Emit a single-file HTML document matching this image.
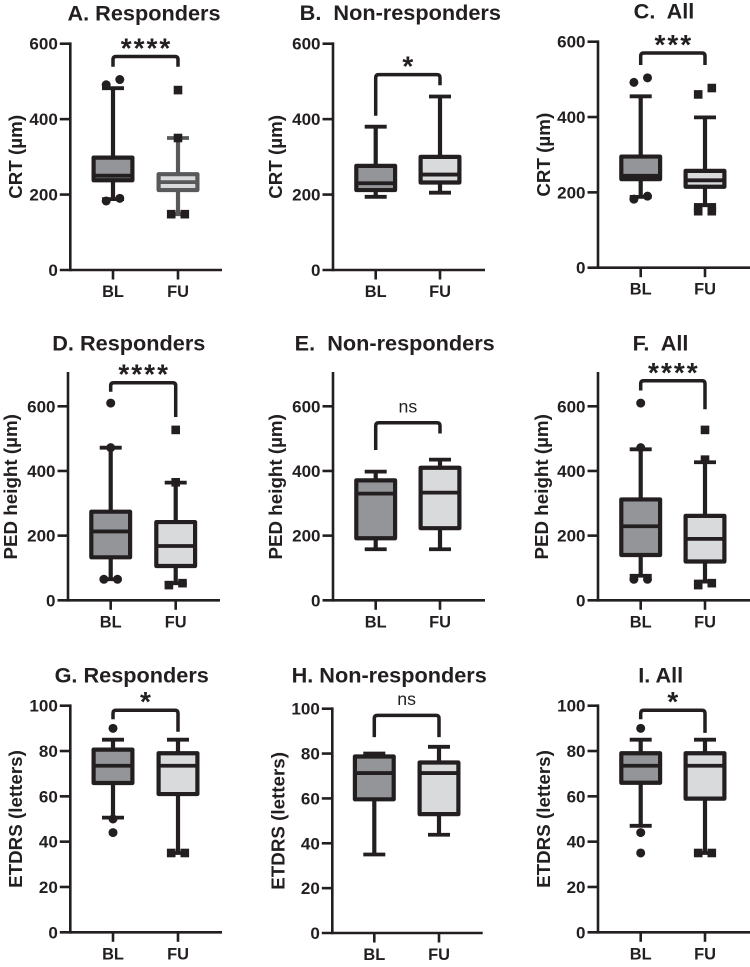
<!DOCTYPE html>
<html lang="en">
<head>
<meta charset="utf-8">
<title>CRT, PED height and ETDRS box plots</title>
<style>
html,body{margin:0;padding:0;background:#fff;}
svg{display:block;}
text{font-family:"Liberation Sans",Arial,sans-serif;fill:#231f20;white-space:pre;}
</style>
</head>
<body>
<svg id="figure" xmlns="http://www.w3.org/2000/svg" width="750" height="967" viewBox="0 0 750 967"></svg>
<script>
// ---------- data ----------
const categories = ['BL', 'FU'];
const panelTitles = ['A. Responders', 'B.  Non-responders', 'C.  All', 'D. Responders', 'E.  Non-responders', 'F.  All', 'G. Responders', 'H. Non-responders', 'I. All'];
const yAxisTitles = ['CRT (µm)', 'CRT (µm)', 'CRT (µm)', 'PED height (µm)', 'PED height (µm)', 'PED height (µm)', 'ETDRS (letters)', 'ETDRS (letters)', 'ETDRS (letters)'];
const significance = ['****', '*', '***', '****', 'ns', '****', '*', 'ns', '*'];
const crtTicks = [0, 200, 400, 600];
const pedTicks = [0, 200, 400, 600];
const etdrsTicks = [0, 20, 40, 60, 80, 100];

const blWhiskerHigh = [482, 380, 455, 472, 398, 467, 85, 80, 85];
const blQ3 = [298, 276, 295, 274, 371, 312, 80.6, 78.7, 79];
const blMedian = [250, 230, 244, 213, 330, 229, 73.5, 71.3, 73.5];
const blQ1 = [238, 212, 235, 133, 192, 140, 65.9, 59.6, 66];
const blWhiskerLow = [188, 194, 188, 65, 158, 76, 50.6, 35, 47];
const blOutliers = [[183, 190, 491, 505], [], [182, 190, 492, 504], [65, 65, 472, 610], [], [65, 65, 472, 610], [44, 50, 90], [], [35, 44, 90]];

const fuWhiskerHigh = [350, 460, 399, 364, 435, 427, 85, 83, 85];
const fuQ3 = [254, 300, 257, 242, 410, 261, 79, 76, 79];
const fuMedian = [233, 253, 232, 168, 333, 190, 73.5, 71.3, 73.5];
const fuQ1 = [212, 232, 215, 106, 223, 120, 61, 53, 59];
const fuWhiskerLow = [148, 205, 166, 53, 158, 58, 35, 43.8, 35];
const fuOutliers = [[148, 148, 350, 477], [], [150, 150, 160, 160, 460, 477], [47, 53, 365, 527], [], [47, 53, 435, 527], [35, 35], [], [35, 35]];

const bracketTop = [566, 518, 570, 673, 549, 679, 98, 97, 98];
const bracketLeftEnd = [539, 409, 538, 645, 465, 649, 94, 87.3, 94];
const bracketRightEnd = [539, 490, 538, 567, 516, 591, 88.5, 87.3, 88];

// ---------- layout ----------
function frameFor(i) {
  const c = i % 3, r = Math.floor(i / 3);
  const f = {};
  f.axisX = [[70.3, 333, 598], [68, 333, 598], [70.3, 332.3, 598]][r][c];
  f.bl = [[113, 375.7, 640.7], [110.7, 375.7, 640.7], [113, 374.3, 640.7]][r][c];
  f.fu = [[178, 440, 705], [175.7, 440, 705], [178, 439, 705]][r][c];
  f.right = [[222, 485, 750], [220, 485, 750], [222, 482.7, 750]][r][c];
  f.y0 = [[270, 270, 267.7], [600.3, 600.3, 600.3], [932.3, 933, 932.3]][r][c];
  f.yTopTick = [[43.7, 43.7, 41.7], [406.3, 406.3, 406.3], [705.7, 708.7, 705.7]][r][c];
  f.titleX = [[144, 400.3, 664], [128.8, 394.7, 660.5], [131.7, 389.2, 660.7]][r][c];
  f.titleY = [[20.7, 20, 18.5], [350.7, 350.7, 350.7], [682.3, 682.3, 682.3]][r][c];
  f.ytitleDx = [[55, 58, 55], [58, 58, 57], [55, 54.6, 55]][r][c];
  f.ticks = [crtTicks, pedTicks, etdrsTicks][r];
  f.axisMax = [600, 702, 100][r];
  return f;
}

const INK = '#231f20';
const GRAY_INK = '#58595b';
const BL_FILL = '#939598';
const FU_FILL = '#d9dadb';
const SVG_NS = 'http://www.w3.org/2000/svg';
const root = document.getElementById('figure');

function line(parent, name, x1, y1, x2, y2, stroke, width, cap) {
  const el = document.createElementNS(SVG_NS, 'line');
  
  
  el.setAttribute('x1', x1);
  el.setAttribute('y1', y1);
  el.setAttribute('x2', x2);
  el.setAttribute('y2', y2);
  el.setAttribute('stroke', stroke);
  el.setAttribute('stroke-width', width);
  el.setAttribute('stroke-linecap', cap || 'butt');
  parent.appendChild(el);
  return el;
}

function label(parent, name, x, y, str, size, weight, anchor, rotate) {
  const el = document.createElementNS(SVG_NS, 'text');
  
  
  el.setAttribute('x', x);
  el.setAttribute('y', y);
  el.setAttribute('font-size', size);
  el.setAttribute('font-weight', weight);
  el.setAttribute('text-anchor', anchor);
  if (rotate) el.setAttribute('transform', 'rotate(-90 ' + x + ' ' + y + ')');
  el.textContent = str;
  parent.appendChild(el);
  return el;
}

function drawOutliers(g, list, xc, yScale, square) {
  const sorted = list.slice().sort(function (a, b) { return a - b; });
  let k = 0;
  while (k < sorted.length) {
    const paired = k + 1 < sorted.length && Math.abs(yScale(sorted[k]) - yScale(sorted[k + 1])) < 9;
    const count = paired ? 2 : 1;
    for (let j = 0; j < count; j++) {
      const cx = paired ? xc + (j === 0 ? -6.8 : 6.8) : xc;
      const cy = yScale(sorted[k + j]);
      const el = document.createElementNS(SVG_NS, square ? 'rect' : 'circle');
      
      
      if (square) {
        el.setAttribute('x', cx - 4.3);
        el.setAttribute('y', cy - 4.3);
        el.setAttribute('width', 8.6);
        el.setAttribute('height', 8.6);
      } else {
        el.setAttribute('cx', cx);
        el.setAttribute('cy', cy);
        el.setAttribute('r', 4.5);
      }
      el.setAttribute('fill', INK);
      g.appendChild(el);
    }
    k += count;
  }
}

function drawBox(parent, name, xc, yScale, high, q3, med, q1, low, fill, stroke) {
  const g = document.createElementNS(SVG_NS, 'g');
  
  
  parent.appendChild(g);
  const halfBox = 19.4, halfCap = 11;
  line(g, 'whisker-high', xc, yScale(q3), xc, yScale(high), stroke, 4.2);
  line(g, 'whisker-low', xc, yScale(q1), xc, yScale(low), stroke, 4.2);
  line(g, 'whisker-cap-high', xc - halfCap, yScale(high), xc + halfCap, yScale(high), stroke, 3.8);
  line(g, 'whisker-cap-low', xc - halfCap, yScale(low), xc + halfCap, yScale(low), stroke, 3.8);
  const rect = document.createElementNS(SVG_NS, 'rect');
  
  
  rect.setAttribute('x', xc - halfBox);
  rect.setAttribute('y', yScale(q3));
  rect.setAttribute('width', halfBox * 2);
  rect.setAttribute('height', yScale(q1) - yScale(q3));
  rect.setAttribute('fill', fill);
  rect.setAttribute('stroke', stroke);
  rect.setAttribute('stroke-width', 4.2);
  rect.setAttribute('stroke-linejoin', 'round');
  g.appendChild(rect);
  line(g, 'median-line', xc - halfBox, yScale(med), xc + halfBox, yScale(med), stroke, 3.8);
  return g;
}

function drawPanel(i) {
  const f = frameFor(i);
  const scale = (f.y0 - f.yTopTick) / f.ticks[f.ticks.length - 1];
  const yScale = function (v) { return f.y0 - v * scale; };

  const panel = document.createElementNS(SVG_NS, 'g');
  
  
  root.appendChild(panel);

  label(panel, 'panel-title', f.titleX, f.titleY, panelTitles[i], 21.7, 'bold', 'middle');
  label(panel, 'y-axis-title', f.axisX - f.ytitleDx + 6.8, (f.y0 + yScale(f.axisMax)) / 2, yAxisTitles[i], 18.8, 'bold', 'middle', true);

  line(panel, 'y-axis', f.axisX, f.y0 + 1.3, f.axisX, yScale(f.axisMax) - 1.3, INK, 2.6);
  line(panel, 'x-axis', f.axisX - 10.5, f.y0, f.right, f.y0, INK, 2.6);

  f.ticks.forEach(function (t) {
    if (t !== 0) line(panel, 'y-tick', f.axisX - 10.5, yScale(t), f.axisX, yScale(t), INK, 2.6);
    label(panel, 'y-tick-label', f.axisX - 12.5, yScale(t) + 6, String(t), 17, 'bold', 'end');
  });

  [f.bl, f.fu].forEach(function (xc, c) {
    line(panel, 'x-tick', xc, f.y0, xc, f.y0 + 9.5, INK, 2.6);
    label(panel, 'x-tick-label', xc, f.y0 + 27, categories[c], 16.4, 'bold', 'middle');
  });

  const blGroup = drawBox(panel, 'box-bl', f.bl, yScale, blWhiskerHigh[i], blQ3[i], blMedian[i], blQ1[i], blWhiskerLow[i], BL_FILL, INK);
  drawOutliers(blGroup, blOutliers[i], f.bl, yScale, false);
  const fuStroke = i === 0 ? GRAY_INK : INK;
  const fuGroup = drawBox(panel, 'box-fu', f.fu, yScale, fuWhiskerHigh[i], fuQ3[i], fuMedian[i], fuQ1[i], fuWhiskerLow[i], FU_FILL, fuStroke);
  drawOutliers(fuGroup, fuOutliers[i], f.fu, yScale, true);

  const br = document.createElementNS(SVG_NS, 'path');
  
  
  const topY = yScale(bracketTop[i]);
  br.setAttribute('d', 'M' + f.bl + ' ' + yScale(bracketLeftEnd[i]) + 'V' + (topY + 3) + 'Q' + f.bl + ' ' + topY + ' ' + (f.bl + 3) + ' ' + topY + 'H' + (f.fu - 3) + 'Q' + f.fu + ' ' + topY + ' ' + f.fu + ' ' + (topY + 3) + 'V' + yScale(bracketRightEnd[i]));
  br.setAttribute('fill', 'none');
  br.setAttribute('stroke', INK);
  br.setAttribute('stroke-width', 3.5);
  panel.appendChild(br);

  const mid = (f.bl + f.fu) / 2;
  if (significance[i] === 'ns') {
    label(panel, 'significance-label', mid, topY - 10.5, 'ns', 17.7, 'normal', 'middle');
  } else {
    const stars = label(panel, 'significance-label', mid + 1, topY + 1, significance[i], 28, 'bold', 'middle');
    stars.setAttribute('letter-spacing', '2');
  }
}

for (let p = 0; p < panelTitles.length; p++) drawPanel(p);
</script>
</body>
</html>
